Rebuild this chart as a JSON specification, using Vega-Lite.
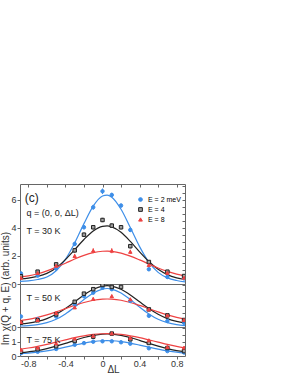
{
"$schema": "https://vega.github.io/schema/vega-lite/v6.json",
"padding": {"top": 183, "left": 0, "right": 0, "bottom": 0},
"spacing": 0,
"bounds": "flush",
"datasets": {
"curves": [
{"p":30,"E":"E = 2 meV","x":-0.9,"y":0.18},{"p":30,"E":"E = 2 meV","x":-0.8,"y":0.22},{"p":30,"E":"E = 2 meV","x":-0.7,"y":0.32},{"p":30,"E":"E = 2 meV","x":-0.6,"y":0.5},{"p":30,"E":"E = 2 meV","x":-0.5,"y":0.95},{"p":30,"E":"E = 2 meV","x":-0.4,"y":1.76},{"p":30,"E":"E = 2 meV","x":-0.3,"y":2.93},{"p":30,"E":"E = 2 meV","x":-0.2,"y":4.31},{"p":30,"E":"E = 2 meV","x":-0.1,"y":5.56},{"p":30,"E":"E = 2 meV","x":0,"y":6.28},{"p":30,"E":"E = 2 meV","x":0.05,"y":6.35},{"p":30,"E":"E = 2 meV","x":0.1,"y":6.2},{"p":30,"E":"E = 2 meV","x":0.2,"y":5.34},{"p":30,"E":"E = 2 meV","x":0.3,"y":4.03},{"p":30,"E":"E = 2 meV","x":0.4,"y":2.67},{"p":30,"E":"E = 2 meV","x":0.5,"y":1.56},{"p":30,"E":"E = 2 meV","x":0.6,"y":0.83},{"p":30,"E":"E = 2 meV","x":0.7,"y":0.44},{"p":30,"E":"E = 2 meV","x":0.8,"y":0.25},{"p":30,"E":"E = 2 meV","x":0.9,"y":0.15},
{"p":30,"E":"E = 4","x":-0.9,"y":0.35},{"p":30,"E":"E = 4","x":-0.8,"y":0.42},{"p":30,"E":"E = 4","x":-0.7,"y":0.54},{"p":30,"E":"E = 4","x":-0.6,"y":0.76},{"p":30,"E":"E = 4","x":-0.5,"y":1.15},{"p":30,"E":"E = 4","x":-0.4,"y":1.74},{"p":30,"E":"E = 4","x":-0.3,"y":2.45},{"p":30,"E":"E = 4","x":-0.2,"y":3.18},{"p":30,"E":"E = 4","x":-0.1,"y":3.79},{"p":30,"E":"E = 4","x":0,"y":4.12},{"p":30,"E":"E = 4","x":0.05,"y":4.15},{"p":30,"E":"E = 4","x":0.1,"y":4.08},{"p":30,"E":"E = 4","x":0.2,"y":3.69},{"p":30,"E":"E = 4","x":0.3,"y":3.04},{"p":30,"E":"E = 4","x":0.4,"y":2.3},{"p":30,"E":"E = 4","x":0.5,"y":1.61},{"p":30,"E":"E = 4","x":0.6,"y":1.05},{"p":30,"E":"E = 4","x":0.7,"y":0.67},{"p":30,"E":"E = 4","x":0.8,"y":0.44},{"p":30,"E":"E = 4","x":0.9,"y":0.31},
{"p":30,"E":"E = 8","x":-0.9,"y":0.5},{"p":30,"E":"E = 8","x":-0.8,"y":0.58},{"p":30,"E":"E = 8","x":-0.7,"y":0.73},{"p":30,"E":"E = 8","x":-0.6,"y":0.94},{"p":30,"E":"E = 8","x":-0.5,"y":1.2},{"p":30,"E":"E = 8","x":-0.4,"y":1.48},{"p":30,"E":"E = 8","x":-0.3,"y":1.78},{"p":30,"E":"E = 8","x":-0.2,"y":2.04},{"p":30,"E":"E = 8","x":-0.1,"y":2.24},{"p":30,"E":"E = 8","x":0,"y":2.34},{"p":30,"E":"E = 8","x":0.05,"y":2.35},{"p":30,"E":"E = 8","x":0.1,"y":2.33},{"p":30,"E":"E = 8","x":0.2,"y":2.21},{"p":30,"E":"E = 8","x":0.3,"y":1.99},{"p":30,"E":"E = 8","x":0.4,"y":1.72},{"p":30,"E":"E = 8","x":0.5,"y":1.43},{"p":30,"E":"E = 8","x":0.6,"y":1.14},{"p":30,"E":"E = 8","x":0.7,"y":0.9},{"p":30,"E":"E = 8","x":0.8,"y":0.7},{"p":30,"E":"E = 8","x":0.9,"y":0.55},
{"p":50,"E":"E = 2 meV","x":-0.9,"y":0.07},{"p":50,"E":"E = 2 meV","x":-0.8,"y":0.1},{"p":50,"E":"E = 2 meV","x":-0.7,"y":0.17},{"p":50,"E":"E = 2 meV","x":-0.6,"y":0.31},{"p":50,"E":"E = 2 meV","x":-0.5,"y":0.55},{"p":50,"E":"E = 2 meV","x":-0.4,"y":0.93},{"p":50,"E":"E = 2 meV","x":-0.3,"y":1.42},{"p":50,"E":"E = 2 meV","x":-0.2,"y":1.96},{"p":50,"E":"E = 2 meV","x":-0.1,"y":2.43},{"p":50,"E":"E = 2 meV","x":0,"y":2.71},{"p":50,"E":"E = 2 meV","x":0.05,"y":2.75},{"p":50,"E":"E = 2 meV","x":0.1,"y":2.71},{"p":50,"E":"E = 2 meV","x":0.2,"y":2.43},{"p":50,"E":"E = 2 meV","x":0.3,"y":1.96},{"p":50,"E":"E = 2 meV","x":0.4,"y":1.42},{"p":50,"E":"E = 2 meV","x":0.5,"y":0.93},{"p":50,"E":"E = 2 meV","x":0.6,"y":0.55},{"p":50,"E":"E = 2 meV","x":0.7,"y":0.31},{"p":50,"E":"E = 2 meV","x":0.8,"y":0.17},{"p":50,"E":"E = 2 meV","x":0.9,"y":0.1},
{"p":50,"E":"E = 4","x":-0.9,"y":0.21},{"p":50,"E":"E = 4","x":-0.8,"y":0.27},{"p":50,"E":"E = 4","x":-0.7,"y":0.4},{"p":50,"E":"E = 4","x":-0.6,"y":0.6},{"p":50,"E":"E = 4","x":-0.5,"y":0.91},{"p":50,"E":"E = 4","x":-0.4,"y":1.32},{"p":50,"E":"E = 4","x":-0.3,"y":1.8},{"p":50,"E":"E = 4","x":-0.2,"y":2.29},{"p":50,"E":"E = 4","x":-0.1,"y":2.69},{"p":50,"E":"E = 4","x":0,"y":2.92},{"p":50,"E":"E = 4","x":0.05,"y":2.95},{"p":50,"E":"E = 4","x":0.1,"y":2.92},{"p":50,"E":"E = 4","x":0.2,"y":2.69},{"p":50,"E":"E = 4","x":0.3,"y":2.29},{"p":50,"E":"E = 4","x":0.4,"y":1.8},{"p":50,"E":"E = 4","x":0.5,"y":1.32},{"p":50,"E":"E = 4","x":0.6,"y":0.91},{"p":50,"E":"E = 4","x":0.7,"y":0.6},{"p":50,"E":"E = 4","x":0.8,"y":0.4},{"p":50,"E":"E = 4","x":0.9,"y":0.27},
{"p":50,"E":"E = 8","x":-0.9,"y":0.44},{"p":50,"E":"E = 8","x":-0.8,"y":0.54},{"p":50,"E":"E = 8","x":-0.7,"y":0.69},{"p":50,"E":"E = 8","x":-0.6,"y":0.87},{"p":50,"E":"E = 8","x":-0.5,"y":1.08},{"p":50,"E":"E = 8","x":-0.4,"y":1.31},{"p":50,"E":"E = 8","x":-0.3,"y":1.54},{"p":50,"E":"E = 8","x":-0.2,"y":1.75},{"p":50,"E":"E = 8","x":-0.1,"y":1.91},{"p":50,"E":"E = 8","x":0,"y":1.99},{"p":50,"E":"E = 8","x":0.05,"y":2.0},{"p":50,"E":"E = 8","x":0.1,"y":1.99},{"p":50,"E":"E = 8","x":0.2,"y":1.91},{"p":50,"E":"E = 8","x":0.3,"y":1.75},{"p":50,"E":"E = 8","x":0.4,"y":1.54},{"p":50,"E":"E = 8","x":0.5,"y":1.31},{"p":50,"E":"E = 8","x":0.6,"y":1.08},{"p":50,"E":"E = 8","x":0.7,"y":0.87},{"p":50,"E":"E = 8","x":0.8,"y":0.69},{"p":50,"E":"E = 8","x":0.9,"y":0.54},
{"p":75,"E":"E = 2 meV","x":-0.9,"y":0.16},{"p":75,"E":"E = 2 meV","x":-0.8,"y":0.2},{"p":75,"E":"E = 2 meV","x":-0.7,"y":0.27},{"p":75,"E":"E = 2 meV","x":-0.6,"y":0.37},{"p":75,"E":"E = 2 meV","x":-0.5,"y":0.49},{"p":75,"E":"E = 2 meV","x":-0.4,"y":0.63},{"p":75,"E":"E = 2 meV","x":-0.3,"y":0.78},{"p":75,"E":"E = 2 meV","x":-0.2,"y":0.92},{"p":75,"E":"E = 2 meV","x":-0.1,"y":1.03},{"p":75,"E":"E = 2 meV","x":0,"y":1.09},{"p":75,"E":"E = 2 meV","x":0.05,"y":1.1},{"p":75,"E":"E = 2 meV","x":0.1,"y":1.09},{"p":75,"E":"E = 2 meV","x":0.2,"y":1.03},{"p":75,"E":"E = 2 meV","x":0.3,"y":0.92},{"p":75,"E":"E = 2 meV","x":0.4,"y":0.78},{"p":75,"E":"E = 2 meV","x":0.5,"y":0.63},{"p":75,"E":"E = 2 meV","x":0.6,"y":0.49},{"p":75,"E":"E = 2 meV","x":0.7,"y":0.37},{"p":75,"E":"E = 2 meV","x":0.8,"y":0.27},{"p":75,"E":"E = 2 meV","x":0.9,"y":0.2},
{"p":75,"E":"E = 4","x":-0.9,"y":0.23},{"p":75,"E":"E = 4","x":-0.8,"y":0.3},{"p":75,"E":"E = 4","x":-0.7,"y":0.39},{"p":75,"E":"E = 4","x":-0.6,"y":0.53},{"p":75,"E":"E = 4","x":-0.5,"y":0.7},{"p":75,"E":"E = 4","x":-0.4,"y":0.9},{"p":75,"E":"E = 4","x":-0.3,"y":1.12},{"p":75,"E":"E = 4","x":-0.2,"y":1.32},{"p":75,"E":"E = 4","x":-0.1,"y":1.47},{"p":75,"E":"E = 4","x":0,"y":1.56},{"p":75,"E":"E = 4","x":0.05,"y":1.57},{"p":75,"E":"E = 4","x":0.1,"y":1.56},{"p":75,"E":"E = 4","x":0.2,"y":1.47},{"p":75,"E":"E = 4","x":0.3,"y":1.32},{"p":75,"E":"E = 4","x":0.4,"y":1.12},{"p":75,"E":"E = 4","x":0.5,"y":0.9},{"p":75,"E":"E = 4","x":0.6,"y":0.7},{"p":75,"E":"E = 4","x":0.7,"y":0.53},{"p":75,"E":"E = 4","x":0.8,"y":0.39},{"p":75,"E":"E = 4","x":0.9,"y":0.3},
{"p":75,"E":"E = 8","x":-0.9,"y":0.47},{"p":75,"E":"E = 8","x":-0.8,"y":0.57},{"p":75,"E":"E = 8","x":-0.7,"y":0.69},{"p":75,"E":"E = 8","x":-0.6,"y":0.83},{"p":75,"E":"E = 8","x":-0.5,"y":0.99},{"p":75,"E":"E = 8","x":-0.4,"y":1.15},{"p":75,"E":"E = 8","x":-0.3,"y":1.31},{"p":75,"E":"E = 8","x":-0.2,"y":1.44},{"p":75,"E":"E = 8","x":-0.1,"y":1.54},{"p":75,"E":"E = 8","x":0,"y":1.59},{"p":75,"E":"E = 8","x":0.05,"y":1.6},{"p":75,"E":"E = 8","x":0.1,"y":1.59},{"p":75,"E":"E = 8","x":0.2,"y":1.54},{"p":75,"E":"E = 8","x":0.3,"y":1.44},{"p":75,"E":"E = 8","x":0.4,"y":1.31},{"p":75,"E":"E = 8","x":0.5,"y":1.15},{"p":75,"E":"E = 8","x":0.6,"y":0.99},{"p":75,"E":"E = 8","x":0.7,"y":0.83},{"p":75,"E":"E = 8","x":0.8,"y":0.69},{"p":75,"E":"E = 8","x":0.9,"y":0.57}
],
"points": [
{"p":30,"E":"E = 2 meV","x":-0.88,"y":0.75,"lo":0.6,"hi":0.9},{"p":30,"E":"E = 2 meV","x":-0.7,"y":0.6,"lo":0.48,"hi":0.72},{"p":30,"E":"E = 2 meV","x":-0.5,"y":1.1,"lo":0.98,"hi":1.22},{"p":30,"E":"E = 2 meV","x":-0.3,"y":2.86,"lo":2.71,"hi":3.01},{"p":30,"E":"E = 2 meV","x":-0.2,"y":4.05,"lo":3.9,"hi":4.2},{"p":30,"E":"E = 2 meV","x":-0.1,"y":5.48,"lo":5.3,"hi":5.66},{"p":30,"E":"E = 2 meV","x":0,"y":6.62,"lo":6.42,"hi":6.82},{"p":30,"E":"E = 2 meV","x":0.1,"y":6.36,"lo":6.21,"hi":6.51},{"p":30,"E":"E = 2 meV","x":0.2,"y":5.6,"lo":5.45,"hi":5.75},{"p":30,"E":"E = 2 meV","x":0.3,"y":3.86,"lo":3.71,"hi":4.01},{"p":30,"E":"E = 2 meV","x":0.5,"y":1.05,"lo":0.93,"hi":1.17},{"p":30,"E":"E = 2 meV","x":0.7,"y":0.5,"lo":0.4,"hi":0.6},{"p":30,"E":"E = 2 meV","x":0.88,"y":0.4,"lo":0.28,"hi":0.52},
{"p":30,"E":"E = 4","x":-0.88,"y":0.55,"lo":0.43,"hi":0.67},{"p":30,"E":"E = 4","x":-0.7,"y":0.88,"lo":0.76,"hi":1.0},{"p":30,"E":"E = 4","x":-0.5,"y":1.4,"lo":1.28,"hi":1.52},{"p":30,"E":"E = 4","x":-0.3,"y":2.4,"lo":2.25,"hi":2.55},{"p":30,"E":"E = 4","x":-0.2,"y":3.52,"lo":3.37,"hi":3.67},{"p":30,"E":"E = 4","x":-0.1,"y":4.05,"lo":3.9,"hi":4.2},{"p":30,"E":"E = 4","x":0,"y":4.57,"lo":4.42,"hi":4.72},{"p":30,"E":"E = 4","x":0.1,"y":4.17,"lo":4.02,"hi":4.32},{"p":30,"E":"E = 4","x":0.2,"y":4.05,"lo":3.9,"hi":4.2},{"p":30,"E":"E = 4","x":0.3,"y":2.7,"lo":2.55,"hi":2.85},{"p":30,"E":"E = 4","x":0.5,"y":1.57,"lo":1.45,"hi":1.69},{"p":30,"E":"E = 4","x":0.7,"y":0.88,"lo":0.76,"hi":1.0},{"p":30,"E":"E = 4","x":0.88,"y":0.57,"lo":0.45,"hi":0.69},
{"p":30,"E":"E = 8","x":-0.88,"y":0.45,"lo":0.33,"hi":0.57},{"p":30,"E":"E = 8","x":-0.7,"y":0.78,"lo":0.66,"hi":0.9},{"p":30,"E":"E = 8","x":-0.5,"y":1.3,"lo":1.15,"hi":1.45},{"p":30,"E":"E = 8","x":-0.3,"y":2.0,"lo":1.85,"hi":2.15},{"p":30,"E":"E = 8","x":-0.1,"y":2.38,"lo":2.2,"hi":2.56},{"p":30,"E":"E = 8","x":0.1,"y":2.38,"lo":2.2,"hi":2.56},{"p":30,"E":"E = 8","x":0.3,"y":2.3,"lo":2.15,"hi":2.45},{"p":30,"E":"E = 8","x":0.5,"y":1.35,"lo":1.2,"hi":1.5},{"p":30,"E":"E = 8","x":0.7,"y":0.8,"lo":0.68,"hi":0.92},{"p":30,"E":"E = 8","x":0.88,"y":0.45,"lo":0.33,"hi":0.57},
{"p":50,"E":"E = 2 meV","x":-0.88,"y":0.75,"lo":0.63,"hi":0.87},{"p":50,"E":"E = 2 meV","x":-0.7,"y":0.55,"lo":0.45,"hi":0.65},{"p":50,"E":"E = 2 meV","x":-0.5,"y":0.75,"lo":0.65,"hi":0.85},{"p":50,"E":"E = 2 meV","x":-0.3,"y":1.6,"lo":1.5,"hi":1.7},{"p":50,"E":"E = 2 meV","x":-0.2,"y":2.2,"lo":2.1,"hi":2.3},{"p":50,"E":"E = 2 meV","x":-0.1,"y":2.45,"lo":2.35,"hi":2.55},{"p":50,"E":"E = 2 meV","x":0,"y":2.8,"lo":2.7,"hi":2.9},{"p":50,"E":"E = 2 meV","x":0.1,"y":2.7,"lo":2.6,"hi":2.8},{"p":50,"E":"E = 2 meV","x":0.3,"y":1.86,"lo":1.76,"hi":1.96},{"p":50,"E":"E = 2 meV","x":0.5,"y":0.8,"lo":0.7,"hi":0.9},{"p":50,"E":"E = 2 meV","x":0.7,"y":0.43,"lo":0.35,"hi":0.51},{"p":50,"E":"E = 2 meV","x":0.88,"y":0.3,"lo":0.22,"hi":0.38},
{"p":50,"E":"E = 4","x":-0.88,"y":0.3,"lo":0.2,"hi":0.4},{"p":50,"E":"E = 4","x":-0.7,"y":0.48,"lo":0.38,"hi":0.58},{"p":50,"E":"E = 4","x":-0.5,"y":0.9,"lo":0.8,"hi":1.0},{"p":50,"E":"E = 4","x":-0.3,"y":1.8,"lo":1.7,"hi":1.9},{"p":50,"E":"E = 4","x":-0.2,"y":2.38,"lo":2.28,"hi":2.48},{"p":50,"E":"E = 4","x":-0.1,"y":2.7,"lo":2.6,"hi":2.8},{"p":50,"E":"E = 4","x":0,"y":3.0,"lo":2.9,"hi":3.1},{"p":50,"E":"E = 4","x":0.1,"y":2.86,"lo":2.76,"hi":2.96},{"p":50,"E":"E = 4","x":0.2,"y":2.86,"lo":2.76,"hi":2.96},{"p":50,"E":"E = 4","x":0.5,"y":1.26,"lo":1.16,"hi":1.36},{"p":50,"E":"E = 4","x":0.7,"y":0.83,"lo":0.73,"hi":0.93},{"p":50,"E":"E = 4","x":0.88,"y":0.5,"lo":0.4,"hi":0.6},
{"p":50,"E":"E = 8","x":-0.88,"y":0.35,"lo":0.25,"hi":0.45},{"p":50,"E":"E = 8","x":-0.7,"y":0.5,"lo":0.4,"hi":0.6},{"p":50,"E":"E = 8","x":-0.5,"y":1.0,"lo":0.9,"hi":1.1},{"p":50,"E":"E = 8","x":-0.3,"y":1.4,"lo":1.3,"hi":1.5},{"p":50,"E":"E = 8","x":-0.1,"y":2.0,"lo":1.88,"hi":2.12},{"p":50,"E":"E = 8","x":0.1,"y":2.2,"lo":2.08,"hi":2.32},{"p":50,"E":"E = 8","x":0.3,"y":1.98,"lo":1.88,"hi":2.08},{"p":50,"E":"E = 8","x":0.5,"y":1.26,"lo":1.16,"hi":1.36},{"p":50,"E":"E = 8","x":0.7,"y":0.83,"lo":0.73,"hi":0.93},{"p":50,"E":"E = 8","x":0.88,"y":0.5,"lo":0.4,"hi":0.6},
{"p":75,"E":"E = 2 meV","x":-0.88,"y":0.2,"lo":0.14,"hi":0.26},{"p":75,"E":"E = 2 meV","x":-0.7,"y":0.3,"lo":0.24,"hi":0.36},{"p":75,"E":"E = 2 meV","x":-0.5,"y":0.5,"lo":0.44,"hi":0.56},{"p":75,"E":"E = 2 meV","x":-0.3,"y":0.8,"lo":0.74,"hi":0.86},{"p":75,"E":"E = 2 meV","x":-0.2,"y":0.92,"lo":0.86,"hi":0.98},{"p":75,"E":"E = 2 meV","x":-0.1,"y":1.02,"lo":0.96,"hi":1.08},{"p":75,"E":"E = 2 meV","x":0,"y":1.05,"lo":0.99,"hi":1.11},{"p":75,"E":"E = 2 meV","x":0.1,"y":1.05,"lo":0.99,"hi":1.11},{"p":75,"E":"E = 2 meV","x":0.2,"y":0.98,"lo":0.92,"hi":1.04},{"p":75,"E":"E = 2 meV","x":0.3,"y":0.88,"lo":0.82,"hi":0.94},{"p":75,"E":"E = 2 meV","x":0.5,"y":0.55,"lo":0.49,"hi":0.61},{"p":75,"E":"E = 2 meV","x":0.7,"y":0.35,"lo":0.29,"hi":0.41},{"p":75,"E":"E = 2 meV","x":0.88,"y":0.25,"lo":0.19,"hi":0.31},
{"p":75,"E":"E = 4","x":-0.88,"y":0.3,"lo":0.22,"hi":0.38},{"p":75,"E":"E = 4","x":-0.7,"y":0.48,"lo":0.4,"hi":0.56},{"p":75,"E":"E = 4","x":-0.5,"y":0.7,"lo":0.62,"hi":0.78},{"p":75,"E":"E = 4","x":-0.3,"y":1.07,"lo":0.97,"hi":1.17},{"p":75,"E":"E = 4","x":-0.1,"y":1.38,"lo":1.28,"hi":1.48},{"p":75,"E":"E = 4","x":0.1,"y":1.6,"lo":1.5,"hi":1.7},{"p":75,"E":"E = 4","x":0.3,"y":1.19,"lo":1.09,"hi":1.29},{"p":75,"E":"E = 4","x":0.5,"y":0.93,"lo":0.83,"hi":1.03},{"p":75,"E":"E = 4","x":0.7,"y":0.57,"lo":0.49,"hi":0.65},{"p":75,"E":"E = 4","x":0.88,"y":0.35,"lo":0.27,"hi":0.43},
{"p":75,"E":"E = 8","x":-0.88,"y":0.45,"lo":0.37,"hi":0.53},{"p":75,"E":"E = 8","x":-0.7,"y":0.6,"lo":0.52,"hi":0.68},{"p":75,"E":"E = 8","x":-0.5,"y":0.9,"lo":0.8,"hi":1.0},{"p":75,"E":"E = 8","x":-0.3,"y":1.25,"lo":1.15,"hi":1.35},{"p":75,"E":"E = 8","x":-0.1,"y":1.45,"lo":1.35,"hi":1.55},{"p":75,"E":"E = 8","x":0.1,"y":1.62,"lo":1.52,"hi":1.72},{"p":75,"E":"E = 8","x":0.3,"y":1.3,"lo":1.2,"hi":1.4},{"p":75,"E":"E = 8","x":0.5,"y":1.12,"lo":1.02,"hi":1.22},{"p":75,"E":"E = 8","x":0.7,"y":0.64,"lo":0.54,"hi":0.74},{"p":75,"E":"E = 8","x":0.88,"y":0.6,"lo":0.5,"hi":0.7}
],
"notes": [
{"p":30,"x":-0.84,"y":6.14,"t":"(c)","k":"big"},
{"p":30,"x":-0.82,"y":5.07,"t":"q = (0, 0, ΔL)","k":"small"},
{"p":30,"x":-0.82,"y":3.79,"t":"T = 30 K","k":"small"},
{"p":50,"x":-0.82,"y":2.07,"t":"T = 50 K","k":"small"},
{"p":75,"x":-0.82,"y":1.14,"t":"T = 75 K","k":"small"}
]
},
"resolve": {"scale": {"fill": "shared", "stroke": "shared", "shape": "shared"}},
"vconcat": [
{
"width": 165, "height": 100,
"layer": [
{"data": {"name": "curves"}, "transform": [{"filter": "datum.p == 30"}],
 "mark": {"type": "line", "interpolate": "monotone", "clip": true, "strokeWidth": 1.2},
 "encoding": {
  "x": {"field": "x", "type": "quantitative", "scale": {"domain": [-0.89, 0.89], "nice": false, "zero": false}, "axis": {"orient": "top", "labels": false, "title": null, "values": [-0.8,-0.6,-0.4,-0.2,0,0.2,0.4,0.6,0.8], "offset": -3}},
  "y": {"field": "y", "type": "quantitative", "scale": {"domain": [0, 7.14], "nice": false}, "axis": {"values": [0,2,4,6], "title": "Im χ(Q + q, E) (arb. units)", "titleY": 104}},
  "stroke": {"field": "E", "type": "nominal", "scale": {"domain": ["E = 2 meV","E = 4","E = 8"], "range": ["#3d8ee8","#222222","#ee4242"]}}
 }},
{"data": {"name": "points"}, "transform": [{"filter": "datum.p == 30"}],
 "mark": {"type": "rule", "clip": true, "strokeWidth": 1},
 "encoding": {
  "x": {"field": "x", "type": "quantitative", "axis": null},
  "y": {"field": "lo", "type": "quantitative", "axis": null},
  "y2": {"field": "hi"},
  "stroke": {"field": "E", "type": "nominal"}
 }},
{"data": {"name": "points"}, "transform": [{"filter": "datum.p == 30"}],
 "mark": {"type": "point", "clip": true, "filled": false, "strokeWidth": 1, "opacity": 1},
 "encoding": {
  "x": {"field": "x", "type": "quantitative", "axis": null},
  "y": {"field": "y", "type": "quantitative", "axis": {"orient": "right", "labels": false, "title": null, "values": [0.5,1,1.5,2,2.5,3,3.5,4,4.5,5,5.5,6,6.5,7], "offset": -3}},
  "fill": {"field": "E", "type": "nominal", "scale": {"domain": ["E = 2 meV","E = 4","E = 8"], "range": ["#3d8ee8","#a0a0a0","#ee4242"]}, "legend": {"encode": {"labels": {"update": {"fill": {"scale": "stroke", "field": "value"}}}}}},
  "stroke": {"field": "E", "type": "nominal"},
  "shape": {"field": "E", "type": "nominal", "scale": {"domain": ["E = 2 meV","E = 4","E = 8"], "range": ["circle","square","triangle-up"]}},
  "size": {"value": 12}
 }},
{"data": {"name": "notes"}, "transform": [{"filter": "datum.p == 30 && datum.k == 'big'"}],
 "mark": {"type": "text", "align": "left", "baseline": "middle", "font": "Liberation Sans", "fontSize": 12, "color": "#222"},
 "encoding": {"x": {"field": "x", "type": "quantitative", "axis": null}, "y": {"field": "y", "type": "quantitative", "axis": null}, "text": {"field": "t"}}},
{"data": {"name": "notes"}, "transform": [{"filter": "datum.p == 30 && datum.k == 'small'"}],
 "mark": {"type": "text", "align": "left", "baseline": "middle", "font": "Liberation Sans", "fontSize": 9, "color": "#222"},
 "encoding": {"x": {"field": "x", "type": "quantitative", "axis": null}, "y": {"field": "y", "type": "quantitative", "axis": null}, "text": {"field": "t"}}}
],
"resolve": {"axis": {"x": "independent", "y": "independent"}}
},
{
"width": 165, "height": 43,
"layer": [
{"data": {"name": "curves"}, "transform": [{"filter": "datum.p == 50"}],
 "mark": {"type": "line", "interpolate": "monotone", "clip": true, "strokeWidth": 1.2},
 "encoding": {
  "x": {"field": "x", "type": "quantitative", "scale": {"domain": [-0.89, 0.89], "nice": false, "zero": false}, "axis": null},
  "y": {"field": "y", "type": "quantitative", "scale": {"domain": [0, 3.07], "nice": false}, "axis": {"values": [0], "title": null}},
  "stroke": {"field": "E", "type": "nominal"}
 }},
{"data": {"name": "points"}, "transform": [{"filter": "datum.p == 50"}],
 "mark": {"type": "rule", "clip": true, "strokeWidth": 1},
 "encoding": {
  "x": {"field": "x", "type": "quantitative", "axis": null},
  "y": {"field": "lo", "type": "quantitative", "axis": null},
  "y2": {"field": "hi"},
  "stroke": {"field": "E", "type": "nominal"}
 }},
{"data": {"name": "points"}, "transform": [{"filter": "datum.p == 50"}],
 "mark": {"type": "point", "clip": true, "filled": false, "strokeWidth": 1, "opacity": 1},
 "encoding": {
  "x": {"field": "x", "type": "quantitative", "axis": null},
  "y": {"field": "y", "type": "quantitative", "axis": {"orient": "right", "labels": false, "title": null, "values": [0.5,1,1.5,2,2.5,3], "offset": -3}},
  "fill": {"field": "E", "type": "nominal"},
  "stroke": {"field": "E", "type": "nominal"},
  "shape": {"field": "E", "type": "nominal"},
  "size": {"value": 12}
 }},
{"data": {"name": "notes"}, "transform": [{"filter": "datum.p == 50"}],
 "mark": {"type": "text", "align": "left", "baseline": "middle", "font": "Liberation Sans", "fontSize": 9, "color": "#222"},
 "encoding": {"x": {"field": "x", "type": "quantitative", "axis": null}, "y": {"field": "y", "type": "quantitative", "axis": null}, "text": {"field": "t"}}}
],
"resolve": {"axis": {"x": "independent", "y": "independent"}}
},
{
"width": 165, "height": 29,
"layer": [
{"data": {"name": "curves"}, "transform": [{"filter": "datum.p == 75"}],
 "mark": {"type": "line", "interpolate": "monotone", "clip": true, "strokeWidth": 1.2},
 "encoding": {
  "x": {"field": "x", "type": "quantitative", "scale": {"domain": [-0.89, 0.89], "nice": false, "zero": false}, "axis": {"values": [-0.8,-0.6,-0.4,-0.2,0,0.2,0.4,0.6,0.8], "labelExpr": "round(datum.value*10) % 4 == 0 ? (datum.value == 0 ? '0' : replace(format(datum.value, '.1f'), '−', '-')) : ''", "title": "ΔL", "titlePadding": -4, "titleX": 93, "labelPadding": 0.5}},
  "y": {"field": "y", "type": "quantitative", "scale": {"domain": [0, 2.07], "nice": false}, "axis": {"values": [0, 1], "title": null}},
  "stroke": {"field": "E", "type": "nominal"}
 }},
{"data": {"name": "points"}, "transform": [{"filter": "datum.p == 75"}],
 "mark": {"type": "rule", "clip": true, "strokeWidth": 1},
 "encoding": {
  "x": {"field": "x", "type": "quantitative", "axis": null},
  "y": {"field": "lo", "type": "quantitative", "axis": null},
  "y2": {"field": "hi"},
  "stroke": {"field": "E", "type": "nominal"}
 }},
{"data": {"name": "points"}, "transform": [{"filter": "datum.p == 75"}],
 "mark": {"type": "point", "clip": true, "filled": false, "strokeWidth": 1, "opacity": 1},
 "encoding": {
  "x": {"field": "x", "type": "quantitative", "axis": null},
  "y": {"field": "y", "type": "quantitative", "axis": {"orient": "right", "labels": false, "title": null, "values": [0.5,1,1.5,2], "offset": -3}},
  "fill": {"field": "E", "type": "nominal"},
  "stroke": {"field": "E", "type": "nominal"},
  "shape": {"field": "E", "type": "nominal"},
  "size": {"value": 12}
 }},
{"data": {"name": "notes"}, "transform": [{"filter": "datum.p == 75"}],
 "mark": {"type": "text", "align": "left", "baseline": "middle", "font": "Liberation Sans", "fontSize": 9, "color": "#222"},
 "encoding": {"x": {"field": "x", "type": "quantitative", "axis": null}, "y": {"field": "y", "type": "quantitative", "axis": null}, "text": {"field": "t"}}}
],
"resolve": {"axis": {"x": "independent", "y": "independent"}}
}
],
"config": {
 "view": {"stroke": "#666666", "strokeWidth": 1},
 "axis": {"labelFont": "Liberation Sans", "titleFont": "Liberation Sans", "labelFontSize": 9, "titleFontSize": 10, "titleFontWeight": "normal", "labelColor": "#333333", "titleColor": "#333333", "tickColor": "#666666", "domain": false, "grid": false, "tickSize": 3, "labelPadding": 1, "titlePadding": 0},
 "legend": {"orient": "none", "legendX": 117, "legendY": 12, "title": null, "labelFont": "Liberation Sans", "labelFontSize": 7, "symbolSize": 14, "rowPadding": 1, "padding": 0, "labelOffset": 4, "symbolStrokeWidth": 1, "symbolType": "circle"},
 "concat": {"spacing": 0}
}
}
